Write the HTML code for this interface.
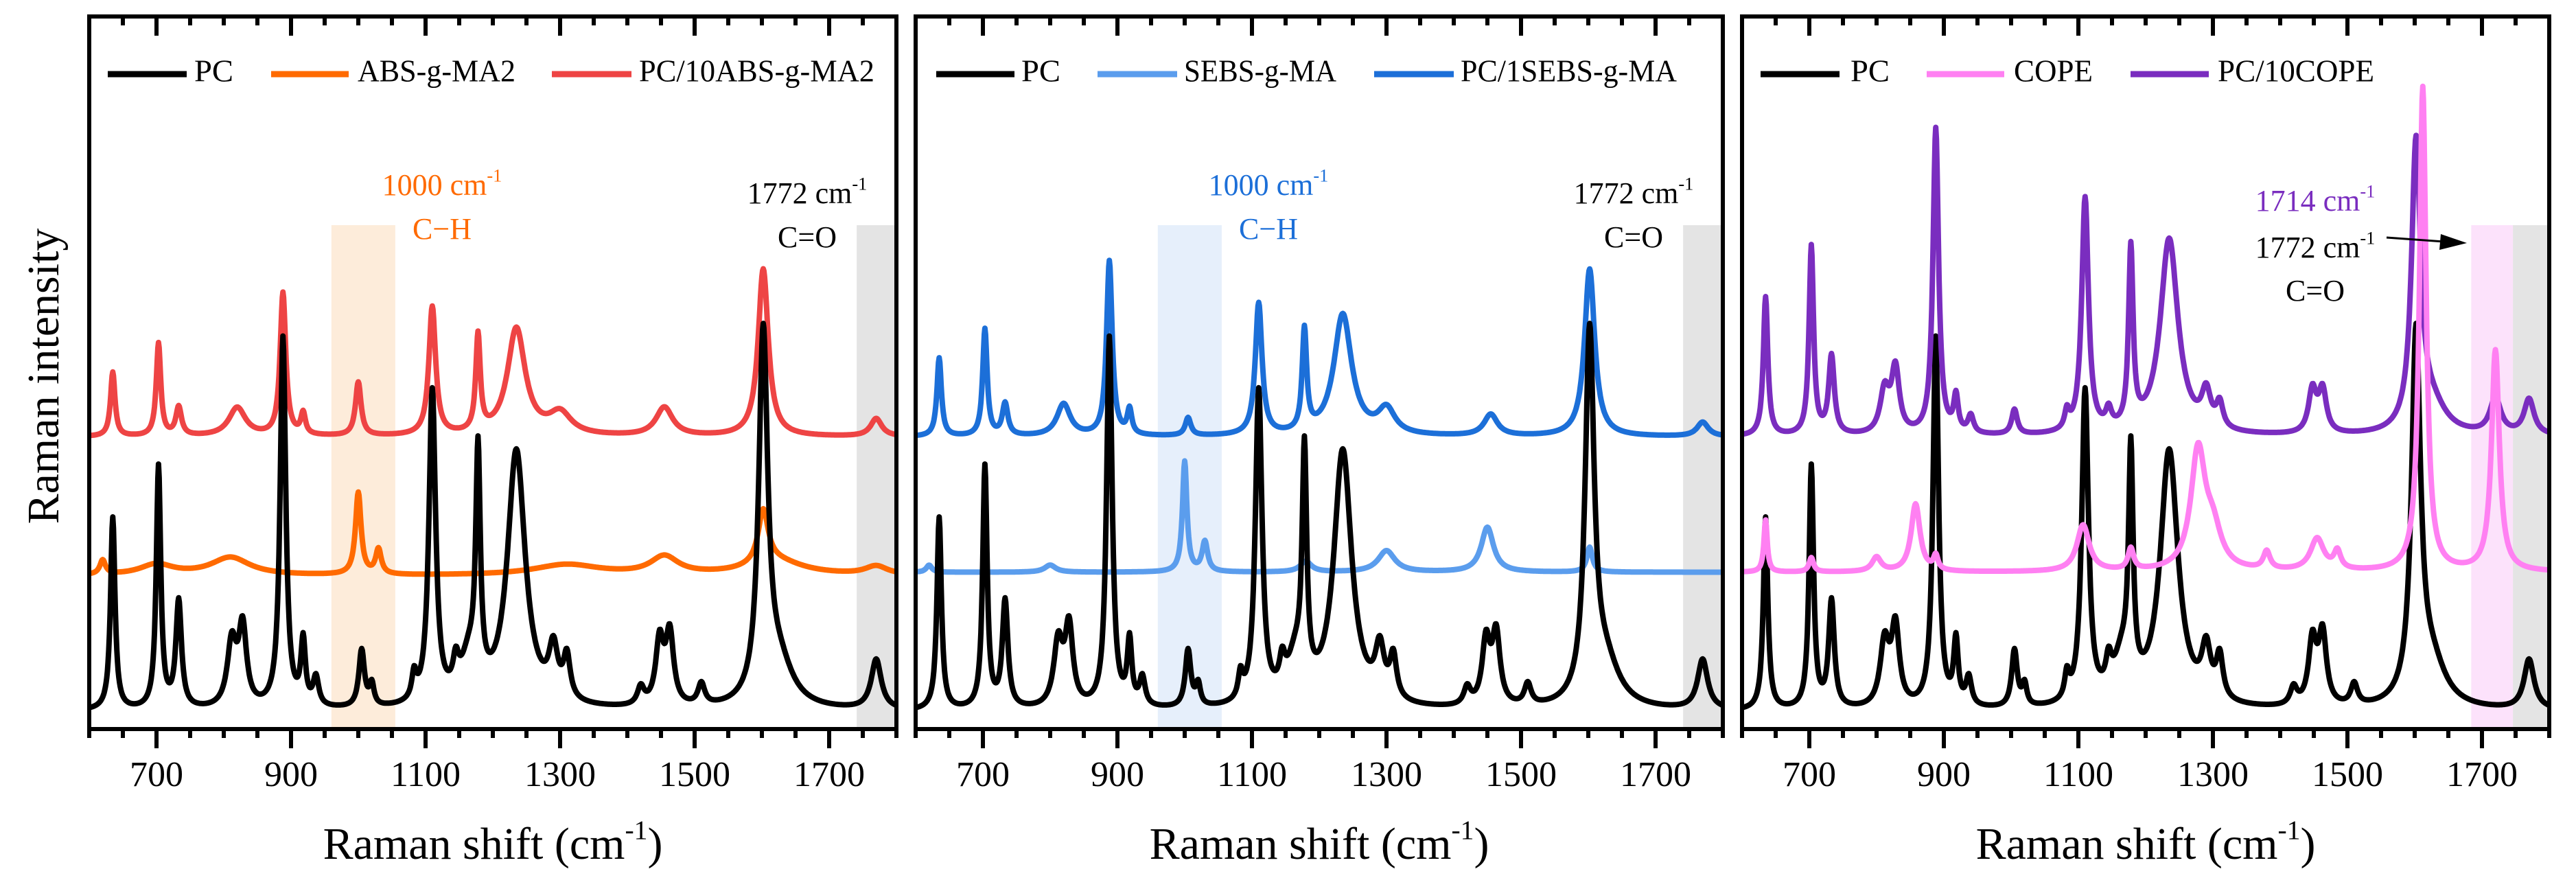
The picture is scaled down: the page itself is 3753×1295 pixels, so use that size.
<!DOCTYPE html>
<html><head><meta charset="utf-8">
<style>
html,body{margin:0;padding:0;background:#fff;}
svg{display:block;font-family:"Liberation Serif",serif;}
</style></head>
<body>
<svg id="chart" width="3753" height="1295" viewBox="0 0 3753 1295" xmlns="http://www.w3.org/2000/svg">
<text transform="translate(70,548) rotate(-90)" text-anchor="middle" dominant-baseline="middle" font-size="66">Raman intensity</text>
</svg>
<script>
// ---- data ----
const xTicks = [700, 900, 1100, 1300, 1500, 1700];
// PC reference: peak centers, heights, half widths
const pcCenters = [635, 703, 733, 812, 828, 888, 918, 937, 1005, 1020, 1083, 1110, 1145, 1165, 1178, 1235, 1290, 1310, 1420, 1448, 1463, 1510, 1602, 1625, 1770];
const pcHeights = [27, 34, 15, 9, 11, 52, 9, 4, 8, 3, 3.5, 44, 4, 6, 32, 36, 7, 6, 2.5, 9, 10, 3, 51, 6, 7];
const pcWidths  = [4, 4, 5, 8, 7, 5, 4, 5, 5, 4, 4, 6, 5, 15, 4, 16, 8, 6, 6, 7, 7, 6, 8, 25, 9];
const pcBase = 2.5;
// ABS-g-MA2
const absCenters = [620, 700, 810, 1000, 1030, 1310, 1455, 1602, 1620, 1770];
const absHeights = [2, 1.5, 2.5, 11.5, 3.5, 1.5, 2.5, 7.5, 2, 1.2];
const absWidths  = [5, 30, 35, 5, 5, 60, 25, 9, 50, 20];
const absBase = 21.5;
// PC/10ABS-g-MA2
const redCenters = [635, 703, 733, 820, 888, 918, 1000, 1110, 1178, 1235, 1300, 1455, 1602, 1770];
const redHeights = [9, 13, 4, 4, 20, 3, 7.5, 18, 13.5, 15, 3, 4, 23.5, 2.5];
const redWidths  = [4, 4, 5, 15, 5, 4, 5, 6, 4, 16, 20, 15, 9, 10];
const redBase = 41;
// SEBS-g-MA
const sebsCenters = [620, 800, 1000, 1030, 1180, 1300, 1450, 1602];
const sebsHeights = [1, 1, 15.5, 4.2, 1.5, 3, 6.3, 3.5];
const sebsWidths  = [5, 10, 4, 5, 10, 15, 11, 5];
const sebsBase = 22;
// PC/1SEBS-g-MA
const sebCenters = [635, 703, 733, 820, 888, 918, 1005, 1110, 1178, 1235, 1300, 1455, 1602, 1770];
const sebHeights = [11, 15, 4.5, 4.5, 24.5, 3.5, 2.5, 18.5, 14.2, 17, 3.5, 3, 23.5, 2];
const sebWidths  = [4, 4, 5, 12, 5, 4, 5, 6, 4, 16, 15, 12, 9, 10];
const sebBase = 41;
// COPE
const copeCenters = [635, 703, 800, 858, 888, 1107, 1178, 1278, 1300, 1380, 1455, 1485, 1612, 1720];
const copeHeights = [7.3, 2, 2, 9.5, 2, 6.5, 3, 16.5, 5, 2.5, 4.5, 2.5, 68, 31];
const copeWidths  = [3, 4, 8, 8, 4, 11, 5, 13, 15, 6, 12, 6, 6, 7];
const copeBase = 22;
// PC/10COPE
const purCenters = [635, 703, 733, 812, 828, 888, 918, 940, 1005, 1083, 1110, 1145, 1178, 1235, 1290, 1310, 1448, 1463, 1602, 1625, 1720, 1770];
const purHeights = [19.5, 26.5, 11, 6, 9, 43, 5, 2.5, 3.5, 2.5, 33, 2.5, 25, 27.5, 5, 3.5, 6, 6, 40, 4, 5, 5];
const purWidths  = [4, 4, 5, 8, 7, 5, 4, 5, 5, 4, 6, 5, 4, 16, 8, 6, 7, 7, 8, 25, 10, 9];
const purBase = 41;

// ---- layout ----
const NS = "http://www.w3.org/2000/svg";
const svg = document.getElementById('chart');
const panelX = [130, 1334, 2538];
const PW = 1176, TOP = 24, BOT = 1062;
const xMin = 600, xMax = 1800, yMin = 0, yMax = 100;
function xs(p, v){ return panelX[p] + (v - xMin) / (xMax - xMin) * PW; }
function ys(v){ return BOT - (v - yMin) / (yMax - yMin) * (BOT - TOP); }
function mk(tag, attrs, parent){
  const e = document.createElementNS(NS, tag);
  for (const k in attrs) e.setAttribute(k, attrs[k]);
  (parent || svg).appendChild(e);
  return e;
}
function spectrum(cs, hs, ws, base, x){
  let s = base;
  for (let i = 0; i < cs.length; i++){ const d = (x - cs[i]) / ws[i]; s += hs[i] / (1 + d * d); }
  return s;
}
function drawSeries(p, cs, hs, ws, base, color, name){
  let d = '';
  for (let x = xMin; x <= xMax; x += 1){
    d += (x === xMin ? 'M' : 'L') + xs(p, x).toFixed(1) + ',' + ys(spectrum(cs, hs, ws, base, x)).toFixed(1);
  }
  const el = mk('path', {d: d, fill: 'none', stroke: color, 'stroke-width': 8, 'stroke-linejoin': 'round'});
  
  
}
function band(p, a, b, color, name){
  const el = mk('rect', {x: xs(p, a), y: 328, width: xs(p, b) - xs(p, a), height: BOT - 328, fill: color});
  
  
}
function txt(x, y, s, size, color, name, sup){
  const t = mk('text', {x: x, y: y, 'font-size': size, fill: color, 'text-anchor': 'middle', 'dominant-baseline': 'middle'});
  
  
  t.appendChild(document.createTextNode(s));
  if (sup){
    const ts = mk('tspan', {'font-size': size * 0.6, dy: -size * 0.35}, t);
    ts.textContent = sup;
  }
  return t;
}
function legend(x1, x2, tx, tw, label, color, name){
  const g = mk('g', {});
  
  
  mk('line', {x1: x1, x2: x2, y1: 108, y2: 108, stroke: color, 'stroke-width': 9}, g);
  const t = mk('text', {x: tx, y: 108, 'font-size': 46, 'dominant-baseline': 'middle', textLength: tw, lengthAdjust: 'spacingAndGlyphs'}, g);
  t.textContent = label;
}

const panelNames = ['abs-panel', 'sebs-panel', 'cope-panel'];
// bands
band(0, 960, 1055, '#fdecda', 'ch-band-1000');
band(0, 1741, 1800, '#e4e4e4', 'co-band-1772');
band(1, 960, 1055, '#e6effb', 'ch-band-1000');
band(1, 1741, 1800, '#e4e4e4', 'co-band-1772');
band(2, 1684, 1746, '#fce2fb', 'co-band-1714');
band(2, 1746, 1800, '#e4e4e4', 'co-band-1772');

// series
drawSeries(0, redCenters, redHeights, redWidths, redBase, '#ee4444', 'pc-10abs-g-ma2-line');
drawSeries(0, absCenters, absHeights, absWidths, absBase, '#ff6a00', 'abs-g-ma2-line');
drawSeries(0, pcCenters, pcHeights, pcWidths, pcBase, '#000000', 'pc-line');
drawSeries(1, sebCenters, sebHeights, sebWidths, sebBase, '#1c6fd8', 'pc-1sebs-g-ma-line');
drawSeries(1, sebsCenters, sebsHeights, sebsWidths, sebsBase, '#5b9ded', 'sebs-g-ma-line');
drawSeries(1, pcCenters, pcHeights, pcWidths, pcBase, '#000000', 'pc-line');
drawSeries(2, pcCenters, pcHeights, pcWidths, pcBase, '#000000', 'pc-line');
drawSeries(2, purCenters, purHeights, purWidths, purBase, '#7a2dbf', 'pc-10cope-line');
drawSeries(2, copeCenters, copeHeights, copeWidths, copeBase, '#ff80f2', 'cope-line');

// frames, ticks, labels
for (let p = 0; p < 3; p++){
  const f = mk('rect', {x: panelX[p], y: TOP, width: PW, height: BOT - TOP, fill: 'none', stroke: '#000', 'stroke-width': 6});
  
  
  for (let v = 600; v <= 1800; v += 50){
    const major = xTicks.indexOf(v) >= 0;
    const L = major ? 28 : 13;
    const x = xs(p, v);
    mk('line', {x1: x, x2: x, y1: BOT, y2: BOT + L, stroke: '#000', 'stroke-width': 6});
    mk('line', {x1: x, x2: x, y1: TOP, y2: TOP + L, stroke: '#000', 'stroke-width': 6});
  }
  for (let i = 0; i < xTicks.length; i++){
    txt(xs(p, xTicks[i]), 1133, String(xTicks[i]), 52, '#000', 'x-tick-label');
  }
  txt(panelX[p] + PW / 2, 1236, 'Raman shift (cm', 66, '#000', 'x-axis-title', '-1');
  const closeP = mk('tspan', {dy: 66 * 0.35}, svg.lastChild); closeP.textContent = ')';
}

// legends
legend(157, 272, 283, 57, 'PC', '#000', 'legend-pc');
legend(395, 508, 521, 230, 'ABS-g-MA2', '#ff6a00', 'legend-abs-g-ma2');
legend(804, 920, 931, 343, 'PC/10ABS-g-MA2', '#ee4444', 'legend-pc-10abs-g-ma2');
legend(1364, 1478, 1488, 57, 'PC', '#000', 'legend-pc');
legend(1599, 1715, 1725, 222, 'SEBS-g-MA', '#5b9ded', 'legend-sebs-g-ma');
legend(2002, 2118, 2128, 315, 'PC/1SEBS-g-MA', '#1c6fd8', 'legend-pc-1sebs-g-ma');
legend(2565, 2680, 2696, 57, 'PC', '#000', 'legend-pc');
legend(2807, 2920, 2934, 115, 'COPE', '#ff80f2', 'legend-cope');
legend(3104, 3218, 3231, 228, 'PC/10COPE', '#7a2dbf', 'legend-pc-10cope');

// annotations
txt(644, 274, '1000 cm', 44, '#ff6a00', 'ch-annotation', '-1');
txt(644, 338, 'C\u2212H', 44, '#ff6a00', 'ch-label');
txt(1176, 286, '1772 cm', 44, '#000', 'co-annotation', '-1');
txt(1176, 350, 'C=O', 44, '#000', 'co-label');
txt(1848, 274, '1000 cm', 44, '#1c6fd8', 'ch-annotation', '-1');
txt(1848, 338, 'C\u2212H', 44, '#1c6fd8', 'ch-label');
txt(2380, 286, '1772 cm', 44, '#000', 'co-annotation', '-1');
txt(2380, 350, 'C=O', 44, '#000', 'co-label');
txt(3373, 297, '1714 cm', 44, '#7a2dbf', 'co-annotation-1714', '-1');
txt(3373, 365, '1772 cm', 44, '#000', 'co-annotation-1772', '-1');
txt(3373, 428, 'C=O', 44, '#000', 'co-label');
const ar = mk('g', {});


mk('line', {x1: 3477, y1: 346, x2: 3560, y2: 352, stroke: '#000', 'stroke-width': 3}, ar);
mk('polygon', {points: '3594,354 3556,341 3554,364', fill: '#000'}, ar);
</script>
</body></html>
